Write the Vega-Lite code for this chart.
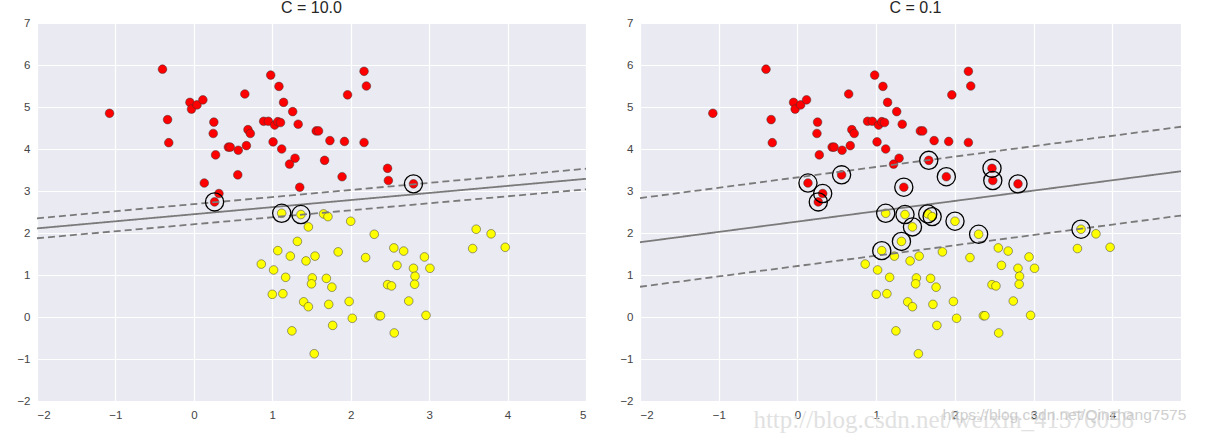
{
  "$schema": "https://vega.github.io/schema/vega-lite/v6.json",
  "background": "white",
  "padding": {"left": 16, "top": 0, "right": 0, "bottom": 0},
  "spacing": 29,
  "config": {
    "view": {"fill": "#EAEAF2", "stroke": null},
    "axis": {"grid": true, "gridColor": "white", "gridWidth": 1.2, "domain": false, "ticks": false, "labelColor": "#444444", "labelFont": "Liberation Sans", "labelFontSize": 11.5, "title": null, "format": "d"},
    "title": {"font": "Liberation Sans", "fontSize": 16, "fontWeight": "normal", "color": "#262626", "offset": 1}
  },
  "datasets": {
    "pts": [
      {"x": -1.075, "y": 4.85, "cls": "red", "sv10": false, "sv01": false},
      {"x": -0.40, "y": 5.90, "cls": "red", "sv10": false, "sv01": false},
      {"x": -0.335, "y": 4.70, "cls": "red", "sv10": false, "sv01": false},
      {"x": -0.32, "y": 4.15, "cls": "red", "sv10": false, "sv01": false},
      {"x": -0.05, "y": 5.11, "cls": "red", "sv10": false, "sv01": false},
      {"x": -0.03, "y": 4.95, "cls": "red", "sv10": false, "sv01": false},
      {"x": 0.04, "y": 5.05, "cls": "red", "sv10": false, "sv01": false},
      {"x": 0.115, "y": 5.17, "cls": "red", "sv10": false, "sv01": false},
      {"x": 0.255, "y": 4.64, "cls": "red", "sv10": false, "sv01": false},
      {"x": 0.247, "y": 4.37, "cls": "red", "sv10": false, "sv01": false},
      {"x": 0.277, "y": 3.86, "cls": "red", "sv10": false, "sv01": false},
      {"x": 0.133, "y": 3.19, "cls": "red", "sv10": false, "sv01": true},
      {"x": 0.32, "y": 2.94, "cls": "red", "sv10": false, "sv01": true},
      {"x": 0.264, "y": 2.74, "cls": "red", "sv10": true, "sv01": true},
      {"x": 0.44, "y": 4.045, "cls": "red", "sv10": false, "sv01": false},
      {"x": 0.464, "y": 4.045, "cls": "red", "sv10": false, "sv01": false},
      {"x": 0.566, "y": 3.97, "cls": "red", "sv10": false, "sv01": false},
      {"x": 0.56, "y": 3.385, "cls": "red", "sv10": false, "sv01": true},
      {"x": 0.65, "y": 5.31, "cls": "red", "sv10": false, "sv01": false},
      {"x": 0.67, "y": 4.08, "cls": "red", "sv10": false, "sv01": false},
      {"x": 0.69, "y": 4.46, "cls": "red", "sv10": false, "sv01": false},
      {"x": 0.72, "y": 4.37, "cls": "red", "sv10": false, "sv01": false},
      {"x": 0.89, "y": 4.66, "cls": "red", "sv10": false, "sv01": false},
      {"x": 0.95, "y": 4.66, "cls": "red", "sv10": false, "sv01": false},
      {"x": 0.98, "y": 5.76, "cls": "red", "sv10": false, "sv01": false},
      {"x": 1.03, "y": 4.57, "cls": "red", "sv10": false, "sv01": false},
      {"x": 1.01, "y": 4.17, "cls": "red", "sv10": false, "sv01": false},
      {"x": 1.085, "y": 5.49, "cls": "red", "sv10": false, "sv01": false},
      {"x": 1.07, "y": 4.65, "cls": "red", "sv10": false, "sv01": false},
      {"x": 1.105, "y": 4.63, "cls": "red", "sv10": false, "sv01": false},
      {"x": 1.144, "y": 5.11, "cls": "red", "sv10": false, "sv01": false},
      {"x": 1.12, "y": 4.0, "cls": "red", "sv10": false, "sv01": false},
      {"x": 1.26, "y": 4.89, "cls": "red", "sv10": false, "sv01": false},
      {"x": 1.33, "y": 4.59, "cls": "red", "sv10": false, "sv01": false},
      {"x": 1.29, "y": 3.78, "cls": "red", "sv10": false, "sv01": false},
      {"x": 1.22, "y": 3.64, "cls": "red", "sv10": false, "sv01": false},
      {"x": 1.35, "y": 3.09, "cls": "red", "sv10": false, "sv01": true},
      {"x": 1.56, "y": 4.43, "cls": "red", "sv10": false, "sv01": false},
      {"x": 1.59, "y": 4.43, "cls": "red", "sv10": false, "sv01": false},
      {"x": 1.735, "y": 4.20, "cls": "red", "sv10": false, "sv01": false},
      {"x": 1.92, "y": 4.18, "cls": "red", "sv10": false, "sv01": false},
      {"x": 2.17, "y": 4.155, "cls": "red", "sv10": false, "sv01": false},
      {"x": 1.96, "y": 5.29, "cls": "red", "sv10": false, "sv01": false},
      {"x": 2.17, "y": 5.85, "cls": "red", "sv10": false, "sv01": false},
      {"x": 2.20, "y": 5.50, "cls": "red", "sv10": false, "sv01": false},
      {"x": 1.667, "y": 3.73, "cls": "red", "sv10": false, "sv01": true},
      {"x": 1.89, "y": 3.34, "cls": "red", "sv10": false, "sv01": true},
      {"x": 2.47, "y": 3.54, "cls": "red", "sv10": false, "sv01": true},
      {"x": 2.48, "y": 3.25, "cls": "red", "sv10": false, "sv01": true},
      {"x": 2.80, "y": 3.17, "cls": "red", "sv10": true, "sv01": true},
      {"x": 1.12, "y": 2.47, "cls": "yellow", "sv10": true, "sv01": true},
      {"x": 1.365, "y": 2.44, "cls": "yellow", "sv10": true, "sv01": true},
      {"x": 1.46, "y": 2.145, "cls": "yellow", "sv10": false, "sv01": true},
      {"x": 1.32, "y": 1.80, "cls": "yellow", "sv10": false, "sv01": true},
      {"x": 1.07, "y": 1.58, "cls": "yellow", "sv10": false, "sv01": true},
      {"x": 1.23, "y": 1.45, "cls": "yellow", "sv10": false, "sv01": false},
      {"x": 1.43, "y": 1.335, "cls": "yellow", "sv10": false, "sv01": false},
      {"x": 1.545, "y": 1.45, "cls": "yellow", "sv10": false, "sv01": false},
      {"x": 0.86, "y": 1.26, "cls": "yellow", "sv10": false, "sv01": false},
      {"x": 1.017, "y": 1.12, "cls": "yellow", "sv10": false, "sv01": false},
      {"x": 1.17, "y": 0.945, "cls": "yellow", "sv10": false, "sv01": false},
      {"x": 1.51, "y": 0.93, "cls": "yellow", "sv10": false, "sv01": false},
      {"x": 1.50, "y": 0.79, "cls": "yellow", "sv10": false, "sv01": false},
      {"x": 1.0, "y": 0.54, "cls": "yellow", "sv10": false, "sv01": false},
      {"x": 1.135, "y": 0.555, "cls": "yellow", "sv10": false, "sv01": false},
      {"x": 1.40, "y": 0.36, "cls": "yellow", "sv10": false, "sv01": false},
      {"x": 1.46, "y": 0.245, "cls": "yellow", "sv10": false, "sv01": false},
      {"x": 1.25, "y": -0.33, "cls": "yellow", "sv10": false, "sv01": false},
      {"x": 1.535, "y": -0.875, "cls": "yellow", "sv10": false, "sv01": false},
      {"x": 1.654, "y": 2.455, "cls": "yellow", "sv10": false, "sv01": true},
      {"x": 1.71, "y": 2.39, "cls": "yellow", "sv10": false, "sv01": true},
      {"x": 2.0, "y": 2.28, "cls": "yellow", "sv10": false, "sv01": true},
      {"x": 1.84, "y": 1.55, "cls": "yellow", "sv10": false, "sv01": false},
      {"x": 2.30, "y": 1.97, "cls": "yellow", "sv10": false, "sv01": true},
      {"x": 2.19, "y": 1.415, "cls": "yellow", "sv10": false, "sv01": false},
      {"x": 1.69, "y": 0.92, "cls": "yellow", "sv10": false, "sv01": false},
      {"x": 1.76, "y": 0.71, "cls": "yellow", "sv10": false, "sv01": false},
      {"x": 1.72, "y": 0.30, "cls": "yellow", "sv10": false, "sv01": false},
      {"x": 1.98, "y": 0.37, "cls": "yellow", "sv10": false, "sv01": false},
      {"x": 2.02, "y": -0.03, "cls": "yellow", "sv10": false, "sv01": false},
      {"x": 1.77, "y": -0.20, "cls": "yellow", "sv10": false, "sv01": false},
      {"x": 2.36, "y": 0.03, "cls": "yellow", "sv10": false, "sv01": false},
      {"x": 2.38, "y": 0.03, "cls": "yellow", "sv10": false, "sv01": false},
      {"x": 2.555, "y": -0.38, "cls": "yellow", "sv10": false, "sv01": false},
      {"x": 2.55, "y": 1.645, "cls": "yellow", "sv10": false, "sv01": false},
      {"x": 2.675, "y": 1.57, "cls": "yellow", "sv10": false, "sv01": false},
      {"x": 2.59, "y": 1.23, "cls": "yellow", "sv10": false, "sv01": false},
      {"x": 2.47, "y": 0.77, "cls": "yellow", "sv10": false, "sv01": false},
      {"x": 2.52, "y": 0.74, "cls": "yellow", "sv10": false, "sv01": false},
      {"x": 2.80, "y": 1.16, "cls": "yellow", "sv10": false, "sv01": false},
      {"x": 2.82, "y": 0.97, "cls": "yellow", "sv10": false, "sv01": false},
      {"x": 2.815, "y": 0.78, "cls": "yellow", "sv10": false, "sv01": false},
      {"x": 2.94, "y": 1.43, "cls": "yellow", "sv10": false, "sv01": false},
      {"x": 3.01, "y": 1.16, "cls": "yellow", "sv10": false, "sv01": false},
      {"x": 2.74, "y": 0.38, "cls": "yellow", "sv10": false, "sv01": false},
      {"x": 2.96, "y": 0.04, "cls": "yellow", "sv10": false, "sv01": false},
      {"x": 3.60, "y": 2.09, "cls": "yellow", "sv10": false, "sv01": true},
      {"x": 3.79, "y": 1.98, "cls": "yellow", "sv10": false, "sv01": false},
      {"x": 3.555, "y": 1.63, "cls": "yellow", "sv10": false, "sv01": false},
      {"x": 3.97, "y": 1.66, "cls": "yellow", "sv10": false, "sv01": false}
    ],
    "lines": [
      {"panel": "C10", "kind": "decision", "dash": "solid", "x": -2, "y": 2.11},
      {"panel": "C10", "kind": "decision", "dash": "solid", "x": 5, "y": 3.29},
      {"panel": "C10", "kind": "upper", "dash": "dashed", "x": -2, "y": 2.35},
      {"panel": "C10", "kind": "upper", "dash": "dashed", "x": 5, "y": 3.53},
      {"panel": "C10", "kind": "lower", "dash": "dashed", "x": -2, "y": 1.875},
      {"panel": "C10", "kind": "lower", "dash": "dashed", "x": 5, "y": 3.04},
      {"panel": "C01", "kind": "decision", "dash": "solid", "x": -2, "y": 1.78},
      {"panel": "C01", "kind": "decision", "dash": "solid", "x": 4.87, "y": 3.47},
      {"panel": "C01", "kind": "upper", "dash": "dashed", "x": -2, "y": 2.83},
      {"panel": "C01", "kind": "upper", "dash": "dashed", "x": 4.87, "y": 4.53},
      {"panel": "C01", "kind": "lower", "dash": "dashed", "x": -2, "y": 0.72},
      {"panel": "C01", "kind": "lower", "dash": "dashed", "x": 4.87, "y": 2.415}
    ]
  },
  "hconcat": [
    {
      "width": 549,
      "height": 378,
      "title": {"text": "C = 10.0"},
      "layer": [
        {
          "data": {"name": "pts"},
          "mark": {"type": "circle", "size": 75, "opacity": 1, "stroke": "#333333", "strokeWidth": 0.6, "strokeOpacity": 0.8},
          "encoding": {
            "x": {"field": "x", "type": "quantitative", "scale": {"domain": [-2, 5], "nice": false, "zero": false}, "axis": {"values": [-2, -1, 0, 1, 2, 3, 4, 5], "labelPadding": 8}},
            "y": {"field": "y", "type": "quantitative", "scale": {"domain": [-2, 7], "nice": false, "zero": false}, "axis": {"values": [-2, -1, 0, 1, 2, 3, 4, 5, 6, 7], "labelPadding": 7}},
            "color": {"field": "cls", "type": "nominal", "scale": {"domain": ["red", "yellow"], "range": ["#ff0000", "#ffff00"]}, "legend": null}
          }
        },
        {
          "data": {"name": "lines"},
          "transform": [{"filter": "datum.panel === 'C10'"}],
          "mark": {"type": "line", "color": "#7a7a7a", "strokeWidth": 1.8},
          "encoding": {
            "x": {"field": "x", "type": "quantitative"},
            "y": {"field": "y", "type": "quantitative"},
            "detail": {"field": "kind", "type": "nominal"},
            "strokeDash": {"field": "dash", "type": "nominal", "scale": {"domain": ["solid", "dashed"], "range": [[1, 0], [7, 4]]}, "legend": null}
          }
        },
        {
          "data": {"name": "pts"},
          "transform": [{"filter": "datum.sv10"}],
          "mark": {"type": "point", "shape": "circle", "filled": false, "size": 330, "stroke": "#000000", "strokeWidth": 1.3, "opacity": 1},
          "encoding": {
            "x": {"field": "x", "type": "quantitative"},
            "y": {"field": "y", "type": "quantitative"}
          }
        }
      ]
    },
    {
      "width": 541,
      "height": 378,
      "title": {"text": "C = 0.1", "dx": 5},
      "layer": [
        {
          "data": {"name": "pts"},
          "mark": {"type": "circle", "size": 75, "opacity": 1, "stroke": "#333333", "strokeWidth": 0.6, "strokeOpacity": 0.8},
          "encoding": {
            "x": {"field": "x", "type": "quantitative", "scale": {"domain": [-2, 4.87], "nice": false, "zero": false}, "axis": {"values": [-2, -1, 0, 1, 2, 3, 4], "labelPadding": 8}},
            "y": {"field": "y", "type": "quantitative", "scale": {"domain": [-2, 7], "nice": false, "zero": false}, "axis": {"values": [-2, -1, 0, 1, 2, 3, 4, 5, 6, 7], "labelPadding": 7}},
            "color": {"field": "cls", "type": "nominal", "scale": {"domain": ["red", "yellow"], "range": ["#ff0000", "#ffff00"]}, "legend": null}
          }
        },
        {
          "data": {"name": "lines"},
          "transform": [{"filter": "datum.panel === 'C01'"}],
          "mark": {"type": "line", "color": "#7a7a7a", "strokeWidth": 1.8},
          "encoding": {
            "x": {"field": "x", "type": "quantitative"},
            "y": {"field": "y", "type": "quantitative"},
            "detail": {"field": "kind", "type": "nominal"},
            "strokeDash": {"field": "dash", "type": "nominal", "scale": {"domain": ["solid", "dashed"], "range": [[1, 0], [7, 4]]}, "legend": null}
          }
        },
        {
          "data": {"name": "pts"},
          "transform": [{"filter": "datum.sv01"}],
          "mark": {"type": "point", "shape": "circle", "filled": false, "size": 330, "stroke": "#000000", "strokeWidth": 1.3, "opacity": 1},
          "encoding": {
            "x": {"field": "x", "type": "quantitative"},
            "y": {"field": "y", "type": "quantitative"}
          }
        },
        {
          "data": {"values": [
            {"x": -0.56, "y": -2.646, "text": "http://blog.csdn.net/weixin_41376058"}
          ]},
          "mark": {"type": "text", "align": "left", "baseline": "alphabetic", "font": "Liberation Serif", "fontSize": 25, "color": "#dcdcdc", "opacity": 0.85},
          "encoding": {
            "x": {"field": "x", "type": "quantitative"},
            "y": {"field": "y", "type": "quantitative"},
            "text": {"field": "text"}
          }
        },
        {
          "data": {"values": [
            {"x": 1.84, "y": -2.455, "text": "https://blog.csdn.net/Qinzhang7575"}
          ]},
          "mark": {"type": "text", "align": "left", "baseline": "alphabetic", "font": "Liberation Sans", "fontSize": 15.5, "color": "#c4c4c4", "opacity": 0.8},
          "encoding": {
            "x": {"field": "x", "type": "quantitative"},
            "y": {"field": "y", "type": "quantitative"},
            "text": {"field": "text"}
          }
        }
      ]
    }
  ]
}
